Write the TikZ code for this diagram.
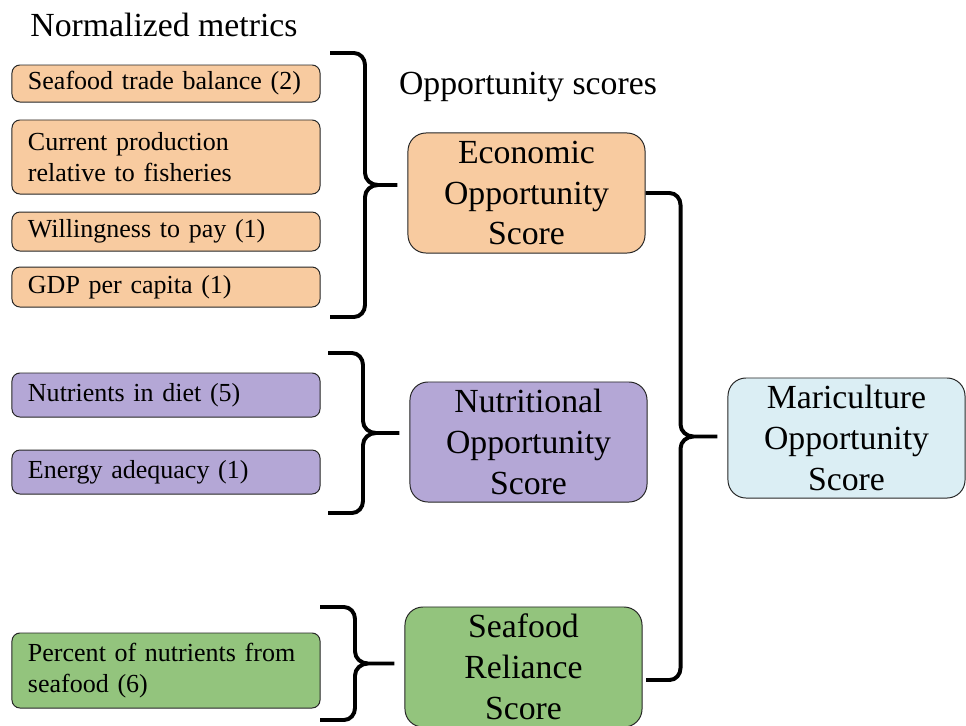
\documentclass[tikz,border=0pt]{standalone}
\usepackage{fontspec}
\setmainfont{Liberation Serif}
\usetikzlibrary{positioning,calc}
\definecolor{econfill}{RGB}{248,203,160}
\definecolor{nutrfill}{RGB}{180,167,214}
\definecolor{relyfill}{RGB}{147,196,125}
\definecolor{maricfill}{RGB}{219,238,244}
\newcommand{\metricfont}{\rmfamily\fontsize{18.5}{22.5}\selectfont}
\newcommand{\scorefont}{\rmfamily\fontsize{24}{29}\selectfont}

% brace from top end #1 to bottom end #2, tip pointing at node #3
\newcommand{\scorebrace}[3]{%
  \draw [bracket] let \p1=(#1), \p2=(#2), \p3=(#3.west), \p4=($(#1)!0.5!(#2)$) in
    (\p1) -- (\x1+0.6cm,\y1) to[out=0,in=90] (\x1+0.875cm,\y1-0.3cm)
    -- (\x1+0.875cm,\y4+0.3cm) to[out=-90,in=180] (\x1+1.2cm,\y4) -- (\x3-0.25cm,\y4)
    (\x1+1.2cm,\y4) to[out=180,in=90] (\x1+0.875cm,\y4-0.3cm)
    -- (\x1+0.875cm,\y2+0.3cm) to[out=-90,in=0] (\x1+0.6cm,\y2) -- (\p2);}

\begin{document}
\begin{tikzpicture}[x=0.025cm, y=-0.025cm,
    metric/.style={rectangle, draw=black!85, line width=0.7pt, fill=econfill, rounded corners=0.2cm,
        minimum width=7.7cm, text width=6.9cm, inner xsep=0.4cm, inner ysep=2pt, align=left, font=\metricfont},
    score/.style={rectangle, draw=black!85, line width=0.7pt, rounded corners=0.45cm,
        minimum width=5.925cm, minimum height=3cm, inner sep=0pt, align=center, font=\scorefont},
    bracket/.style={line width=2.8pt, line join=round}]

\useasboundingbox (0,0) rectangle (966,725);

\node [font=\scorefont] (normlab) at (164,25) {Normalized metrics};
\node [font=\scorefont] (opplab) at (528,87) {Opportunity scores};

% economic metrics
\node [metric, minimum height=0.925cm] (tradebal) at (166,83.5) {Seafood trade balance (2)};
\node [metric, minimum height=1.85cm, below=0.425cm of tradebal] (currprod) {Current production\\relative to fisheries};
\node [metric, minimum height=0.975cm, below=0.425cm of currprod] (willpay) {Willingness to pay (1)};
\node [metric, minimum height=1cm, below=0.375cm of willpay] (gdp) {GDP per capita (1)};

% nutritional metrics
\node [metric, fill=nutrfill, minimum height=1.1cm] (nutrdiet) at (166,395) {Nutrients in diet (5)};
\node [metric, fill=nutrfill, minimum height=1.1cm, below=0.8cm of nutrdiet] (energy) {Energy adequacy (1)};

% reliance metric
\node [metric, fill=relyfill, minimum height=1.875cm] (pctnutr) at (166,670.5) {Percent of nutrients from\\seafood (6)};

% scores
\node [score, fill=econfill] (econ) at (526.5,193) {Economic\\Opportunity\\Score};
\node [score, fill=nutrfill] (nutr) at (528.5,442) {Nutritional\\Opportunity\\Score};
\node [score, fill=relyfill] (rely) at (523.5,667) {Seafood\\Reliance\\Score};
\node [score, fill=maricfill] (maric) at (846.5,438) {Mariculture\\Opportunity\\Score};

\coordinate (econtop) at (330,53);
\coordinate (econbot) at (330,317);
\coordinate (nutrtop) at (328,353);
\coordinate (nutrbot) at (328,513);
\coordinate (relytop) at (320,607);
\coordinate (relybot) at (320,720);
\coordinate (maricbot) at (646,680);

\scorebrace{econtop}{econbot}{econ}
\scorebrace{nutrtop}{nutrbot}{nutr}
\scorebrace{relytop}{relybot}{rely}
\scorebrace{econ.east}{maricbot}{maric}

\end{tikzpicture}
\end{document}
